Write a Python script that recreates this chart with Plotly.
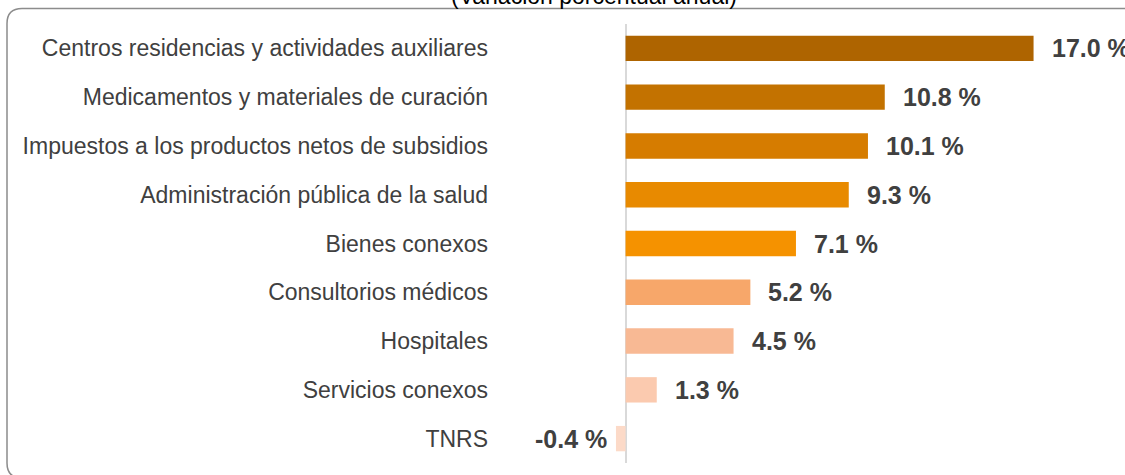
import plotly.graph_objects as go

# Categories from top to bottom
categories = [
    "Centros residencias y actividades auxiliares",
    "Medicamentos y materiales de curación",
    "Impuestos a los productos netos de subsidios",
    "Administración pública de la salud",
    "Bienes conexos",
    "Consultorios médicos",
    "Hospitales",
    "Servicios conexos",
    "TNRS",
]
values = [17.0, 10.8, 10.1, 9.3, 7.1, 5.2, 4.5, 1.3, -0.4]
bar_colors = [
    "#AE6400", "#C37200", "#D67C00", "#E88A00", "#F59200",
    "#F7A76A", "#F8B994", "#FBCAAF", "#FCDAC8",
]
title_text = "(Variación porcentual anual)"

W, H = 1125, 475
ML, MR, MT, MB = 495, 0, 24, 12
PW, PH = W - ML - MR, H - MT - MB


def px_x(px):
    return (px - ML) / PW


def px_y(py):
    return (H - MB - py) / PH


def rounded_box(x0, y0, x1, y1, r):
    # pixel box -> paper-coordinate svg path with rounded corners
    rx, ry = r / PW, r / PH
    a, b = px_x(x0), px_x(x1)
    top, bot = px_y(y0), px_y(y1)
    return (
        f"M {a + rx},{top} L {b - rx},{top} Q {b},{top} {b},{top - ry} "
        f"L {b},{bot + ry} Q {b},{bot} {b - rx},{bot} "
        f"L {a + rx},{bot} Q {a},{bot} {a},{bot + ry} "
        f"L {a},{top - ry} Q {a},{top} {a + rx},{top} Z"
    )


fig = go.Figure()

fig.add_trace(go.Bar(
    x=values,
    y=categories,
    orientation="h",
    marker=dict(color=bar_colors, line=dict(width=0)),
    width=0.52,
    hoverinfo="skip",
))

# value labels next to the bars
for cat, val in zip(categories, values):
    fig.add_annotation(
        x=val, y=cat, xref="x", yref="y",
        text=f"{val:.1f} %",
        showarrow=False,
        xanchor="left" if val >= 0 else "right",
        xshift=16 if val >= 0 else -7,
        font=dict(family="Liberation Sans, Arial", size=25, color="#404040", weight="bold"),
    )

# title sits mostly above the page edge, as in the source
fig.add_annotation(
    x=px_x(594), y=px_y(11), xref="paper", yref="paper",
    text=title_text, showarrow=False, xanchor="center", yanchor="bottom",
    font=dict(family="Liberation Sans, Arial", size=23, color="#000000"),
)

fig.add_shape(
    type="path", xref="paper", yref="paper",
    path=rounded_box(7, 8.5, 1140, 478, 15),
    line=dict(color="#8C8C8C", width=1.5),
)

fig.update_layout(
    width=W, height=H,
    margin=dict(l=ML, r=MR, t=MT, b=MB),
    paper_bgcolor="white",
    plot_bgcolor="white",
    showlegend=False,
    xaxis=dict(
        range=[-5.44, 20.81],
        showgrid=False, showticklabels=False, ticks="",
        zeroline=True, zerolinecolor="#D9D9D9", zerolinewidth=2,
        fixedrange=True,
    ),
    yaxis=dict(
        autorange="reversed",
        showgrid=False, zeroline=False, ticks="",
        ticklabelstandoff=6,
        tickfont=dict(family="Liberation Sans, Arial", size=23, color="#404040"),
        fixedrange=True,
    ),
)

# drop the browser's default 8px body margin so the figure sits at the page corner
fig.write_html(
    "out.html",
    config={"displayModeBar": False},
    post_script="document.body.style.margin='0';",
)
